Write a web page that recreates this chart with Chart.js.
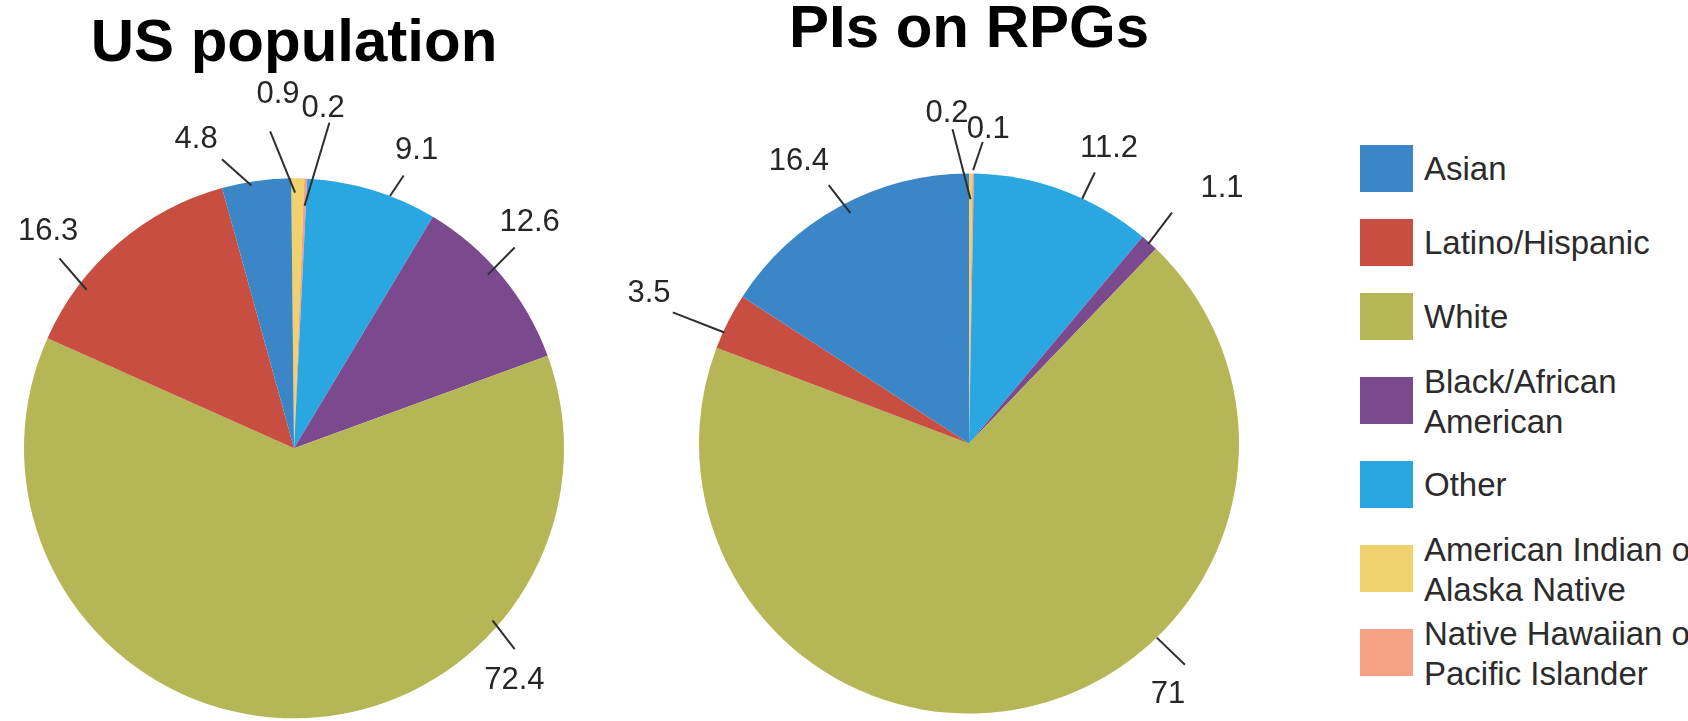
<!DOCTYPE html>
<html>
<head>
<meta charset="utf-8">
<script src="https://cdn.jsdelivr.net/npm/chart.js@4.4.1/dist/chart.umd.min.js"></script>
<style>
  html, body { margin: 0; padding: 0; background: #fff; width: 1688px; height: 721px; overflow: hidden; }
  canvas.pie { position: absolute; top: 0; }
  #legend { position: absolute; left: 1360px; top: 0; width: 400px; height: 721px;
            font-family: "Liberation Sans", Arial, sans-serif; font-size: 33px; color: #2b2b2b; white-space: nowrap; }
  #legend .swatch { position: absolute; left: 0; width: 53px; height: 47px; }
  #legend .txt { position: absolute; left: 64px; line-height: 40px; }
</style>
</head>
<body>
<canvas id="us" class="pie" width="588" height="721" style="left:0px"></canvas>
<canvas id="rpg" class="pie" width="738" height="721" style="left:600px"></canvas>
<div id="legend"></div>
<script>
// Categories in legend order (multi-line names are split for the legend)
const categories = [
  'Asian',
  'Latino/Hispanic',
  'White',
  ['Black/African', 'American'],
  'Other',
  ['American Indian or', 'Alaska Native'],
  ['Native Hawaiian or', 'Pacific Islander']
];
const usValues  = [4.8, 16.3, 72.4, 12.6, 9.1, 0.9, 0.2];
const rpgValues = [16.4, 3.5, 71, 1.1, 11.2, 0.2, 0.1];
const colors = ['#3b86c6', '#c84e41', '#b5b655', '#7b4a8e', '#2aa7e0', '#f1d06e', '#f4a184'];

// Clockwise drawing order of the slices, starting at 12 o'clock
const sliceOrder = [5, 6, 4, 3, 2, 1, 0];

// Leader-line placement per category:
// t / rIn: where the line starts inside its slice (fraction of slice sweep, fraction of radius)
// out / text: [degrees clockwise from top, fraction of radius]
const usLeaders = [
  { t: 0.42,  rIn: 0.986, out: [346.0, 1.103], text: [342.4, 1.199] },
  { t: 0.264, rIn: 0.967, out: [309.0, 1.118], text: [311.4, 1.214] },
  { t: 0.272, rIn: 0.973, out: [132.3, 1.105], text: [136.5, 1.186] },
  { t: 0.44,  rIn: 0.964, out: [47.7, 1.105],  text: [46.25, 1.208] },
  { t: 0.64,  rIn: 1.0,   out: [21.9, 1.089],  text: [22.4, 1.192] },
  { t: 0.3,   rIn: 0.947, out: [355.7, 1.177], text: [357.4, 1.311] },
  { t: 0.5,   rIn: 0.899, out: [6.2, 1.213],   text: [4.9, 1.262] }
];
const rpgLeaders = [
  { t: 0.523, rIn: 0.96,  out: [331.5, 1.089], text: [328.9, 1.22] },
  { t: 0.3,   rIn: 0.995, out: [293.9, 1.2],   text: [295.2, 1.31] },
  { t: 0.373, rIn: 1.0,   out: [135.7, 1.145], text: [141.6, 1.186] },
  { t: 0.5,   rIn: 0.994, out: [41.3, 1.139],  text: [44.8, 1.33] },
  { t: 0.61,  rIn: 0.999, out: [24.9, 1.107],  text: [25.4, 1.209] },
  { t: 0.5,   rIn: 0.905, out: [357.0, 1.166], text: [356.2, 1.227] },
  { t: 0.5,   rIn: 1.013, out: [2.6, 1.118],   text: [3.5, 1.167] }
];

const FONT = '"Liberation Sans", Arial, Helvetica, sans-serif';

// Draws the value of each slice with a short leader line
const leaderLabels = {
  id: 'leaderLabels',
  afterDatasetsDraw(chart, args, opts) {
    const ctx = chart.ctx;
    const meta = chart.getDatasetMeta(0);
    const data = chart.data.datasets[0].data;
    const polar = (arc, deg, rf) => {
      const a = (deg - 90) * Math.PI / 180;
      return [arc.x + Math.cos(a) * rf * arc.outerRadius, arc.y + Math.sin(a) * rf * arc.outerRadius];
    };
    ctx.save();
    ctx.strokeStyle = opts.lineColor;
    ctx.lineWidth = opts.lineWidth;
    ctx.fillStyle = opts.textColor;
    ctx.font = opts.fontSize + 'px ' + FONT;
    ctx.textAlign = 'center';
    ctx.textBaseline = 'middle';
    meta.data.forEach((arc, j) => {
      const spec = opts.spots[sliceOrder[j]];
      const a = arc.startAngle + spec.t * (arc.endAngle - arc.startAngle);
      const r = spec.rIn * arc.outerRadius;
      const x0 = arc.x + Math.cos(a) * r, y0 = arc.y + Math.sin(a) * r;
      const [x1, y1] = polar(arc, spec.out[0], spec.out[1]);
      ctx.beginPath();
      ctx.moveTo(x0, y0);
      ctx.lineTo(x1, y1);
      ctx.stroke();
      const [tx, ty] = polar(arc, spec.text[0], spec.text[1]);
      ctx.fillText(String(data[j]), tx, ty);
    });
    ctx.restore();
  }
};

function makePie(id, title, values, leaders, titlePad, rotation) {
  return new Chart(document.getElementById(id), {
    type: 'pie',
    data: {
      labels: sliceOrder.map(i => categories[i]),
      datasets: [{
        data: sliceOrder.map(i => values[i]),
        backgroundColor: sliceOrder.map(i => colors[i]),
        borderWidth: 0
      }]
    },
    options: {
      responsive: false,
      animation: false,
      events: [],
      radius: 270,
      rotation: rotation,
      layout: { padding: 0 },
      plugins: {
        legend: { display: false },
        tooltip: { enabled: false },
        title: {
          display: true,
          text: title,
          color: '#000',
          font: { family: FONT, size: 60, weight: 'bold', lineHeight: 0.95 },
          padding: titlePad
        },
        leaderLabels: { spots: leaders, lineColor: '#2e2e2e', lineWidth: 2, textColor: '#262626', fontSize: 31 }
      }
    },
    plugins: [leaderLabels]
  });
}

makePie('us', 'US population', usValues, usLeaders, { top: 16, bottom: 102.65 }, -0.6);
makePie('rpg', 'PIs on RPGs', rpgValues, rpgLeaders, { top: 2, bottom: 107.15 }, 0);

// Shared legend, in category order; rows holding a wrapped name get a wider pitch
const legend = document.getElementById('legend');
let rowCenter = 168.5;
categories.forEach((name, i) => {
  const lines = Array.isArray(name) ? name : [name];
  if (i > 0) {
    const wide = lines.length > 1 || Array.isArray(categories[i - 1]);
    rowCenter += wide ? 84 : 74;
  }
  const sw = document.createElement('div');
  sw.className = 'swatch';
  sw.style.background = colors[i];
  sw.style.top = (rowCenter - 23.5) + 'px';
  const txt = document.createElement('div');
  txt.className = 'txt';
  const textCenter = rowCenter + (lines.length > 1 ? 1 : 0);
  txt.style.top = (textCenter - lines.length * 20) + 'px';
  lines.forEach(line => {
    const d = document.createElement('div');
    d.textContent = line;
    txt.appendChild(d);
  });
  legend.appendChild(sw);
  legend.appendChild(txt);
});
</script>
</body>
</html>
